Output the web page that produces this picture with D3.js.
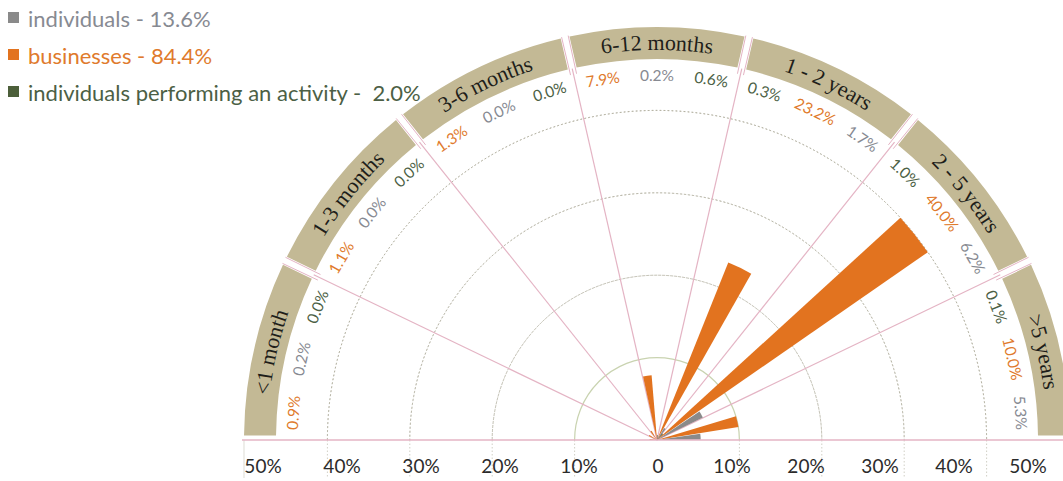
<!DOCTYPE html>
<html>
<head>
<meta charset="utf-8">
<script src="https://cdn.jsdelivr.net/npm/d3@7"></script>
<style>
  body { margin: 0; background: #fff; }
  svg { display: block; }
</style>
</head>
<body>
<div id="container"></div>
<script>
var width = 1063;
var height = 481;

// data
var categories = ["<1 month", "1-3 months", "3-6 months", "6-12 months", "1 - 2 years", "2 - 5 years", ">5 years"];
var individuals = [0.2, 0.0, 0.0, 0.2, 1.7, 6.2, 5.3];
var businesses = [0.9, 1.1, 1.3, 7.9, 23.2, 40.0, 10.0];
var activity = [0.0, 0.0, 0.0, 0.6, 0.3, 1.0, 0.1];
var seriesNames = ["individuals", "businesses", "individuals performing an activity"];
var seriesTotals = ["13.6%", "84.4%", "2.0%"];
var ticks = [50, 40, 30, 20, 10, 0, 10, 20, 30, 40, 50];

var colors = { individuals: "#8a8a8a", businesses: "#e2731f", activity: "#4c5f3a" };
var textColors = { individuals: "#878a92", businesses: "#e07a2c", activity: "#4c5f45" };

var cx = 657, cy = 440;
var bandInner = 381, bandOuter = 413;

var svg = d3.select("#container").append("svg")
  .attr("width", width).attr("height", height);

// radius scale (percent -> px)
var r = d3.scaleLinear().domain([0, 50]).range([0, 412]);
// angle scale, clockwise from north
var angle = d3.scaleBand().domain(categories).range([-Math.PI / 2, Math.PI / 2]);

// bar order inside each sector (left half and right half differ in the original)
function orderFor(i) {
  return i < 4 ? ["businesses", "individuals", "activity"] : ["activity", "businesses", "individuals"];
}

var rows = [];
categories.forEach(function (c, i) {
  var vals = { individuals: individuals[i], businesses: businesses[i], activity: activity[i] };
  var sub = d3.scaleBand().domain(orderFor(i)).range([angle(c), angle(c) + angle.bandwidth()]);
  orderFor(i).forEach(function (k) {
    rows.push({ cat: c, key: k, value: vals[k], a0: sub(k), a1: sub(k) + sub.bandwidth() });
  });
});

var g = svg.append("g").attr("transform", "translate(" + cx + "," + cy + ")");

// grid rings
[10, 20, 30, 40].forEach(function (t) {
  g.append("path")
    .attr("d", d3.arc().innerRadius(r(t)).outerRadius(r(t))({ startAngle: -Math.PI / 2, endAngle: Math.PI / 2 }))
    .attr("fill", "none")
    .attr("stroke", t == 10 ? "#c9d3b0" : "#a9a795")
    .attr("stroke-width", t == 10 ? 1.2 : 0.8)
    .attr("stroke-dasharray", t == 10 ? null : "1.5,2.5");
  // little drop lines below baseline
  [-1, 1].forEach(function (s) {
    g.append("line")
      .attr("x1", s * r(t)).attr("x2", s * r(t))
      .attr("y1", 0).attr("y2", 38)
      .attr("stroke", "#bdbbae").attr("stroke-width", 0.7)
      .attr("stroke-dasharray", "1.5,2");
  });
});
g.append("line")
  .attr("x1", -bandOuter).attr("x2", -bandOuter)
  .attr("y1", 0).attr("y2", 38)
  .attr("stroke", "#cfcdc2").attr("stroke-width", 0.7);

// outer band
var bandArc = d3.arc().innerRadius(bandInner).outerRadius(bandOuter).padAngle(0.016);
g.selectAll("path.band")
  .data(categories)
  .enter().append("path")
  .attr("class", "band")
  .attr("d", function (c) { return bandArc({ startAngle: angle(c), endAngle: angle(c) + angle.bandwidth() }); })
  .attr("fill", "#c3b995");

// sector lines
var bounds = categories.slice(1).map(function (c) { return angle(c); });
var lineCol = "#e4b4c4";
bounds.forEach(function (a) {
  g.append("line")
    .attr("x1", 0).attr("y1", 0)
    .attr("x2", bandInner * Math.sin(a)).attr("y2", -bandInner * Math.cos(a))
    .attr("stroke", lineCol).attr("stroke-width", 1.2);
  [-0.0082, 0.0082].forEach(function (d) {
    g.append("line")
      .attr("x1", (bandInner - 6) * Math.sin(a + d)).attr("y1", -(bandInner - 6) * Math.cos(a + d))
      .attr("x2", (bandOuter + 1) * Math.sin(a + d)).attr("y2", -(bandOuter + 1) * Math.cos(a + d))
      .attr("stroke", lineCol).attr("stroke-width", 1);
  });
});
// baseline
svg.append("line")
  .attr("x1", cx - bandOuter - 2).attr("x2", width)
  .attr("y1", cy).attr("y2", cy)
  .attr("stroke", lineCol).attr("stroke-width", 1.5);

// bars
var barArc = d3.arc().innerRadius(0);
g.selectAll("path.bar")
  .data(rows)
  .enter().append("path")
  .attr("class", "bar")
  .attr("d", function (d) {
    return barArc.outerRadius(r(d.value))({ startAngle: d.a0 + 0.008, endAngle: d.a1 - 0.008 });
  })
  .attr("fill", function (d) { return colors[d.key]; });

// value labels
var labelR = 365;
g.selectAll("text.val")
  .data(rows)
  .enter().append("text")
  .attr("class", "val")
  .attr("transform", function (d) {
    var a = (d.a0 + d.a1) / 2;
    return "translate(" + (labelR * Math.sin(a)) + "," + (-labelR * Math.cos(a)) + ") rotate(" + (a * 180 / Math.PI) + ")";
  })
  .attr("text-anchor", "middle")
  .attr("dominant-baseline", "central")
  .attr("font-family", "Lato, sans-serif")
  .attr("font-size", 15.5)
  .attr("fill", function (d) { return textColors[d.key]; })
  .text(function (d) { return d.value.toFixed(1) + "%"; });

// category labels on curved paths
var labelPathR = 390;
var defs = svg.append("defs");
categories.forEach(function (c, i) {
  var a0 = angle(c) - 0.3, a1 = angle(c) + angle.bandwidth() + 0.3;
  defs.append("path")
    .attr("id", "cat" + i)
    .attr("d", "M" + (cx + labelPathR * Math.sin(a0)) + "," + (cy - labelPathR * Math.cos(a0)) +
      " A" + labelPathR + "," + labelPathR + " 0 0 1 " +
      (cx + labelPathR * Math.sin(a1)) + "," + (cy - labelPathR * Math.cos(a1)));
  svg.append("text")
    .attr("font-family", "'Liberation Serif', serif")
    .attr("font-size", 22)
    .attr("fill", "#1e1e1a")
    .append("textPath")
    .attr("href", "#cat" + i)
    .attr("startOffset", "50%")
    .attr("text-anchor", "middle")
    .text(c);
});

// axis labels (the original spaces them a bit unevenly)
var tickX = d3.scaleLinear().domain([-50, 0, 50]).range([263, 658, 1028]);
svg.selectAll("text.tick")
  .data(ticks)
  .enter().append("text")
  .attr("class", "tick")
  .attr("x", function (t, i) { return tickX(i < 5 ? -t : t); })
  .attr("y", 473)
  .attr("text-anchor", "middle")
  .attr("font-family", "Lato, sans-serif")
  .attr("font-size", 19)
  .attr("fill", "#2b2b2b")
  .text(function (t) { return t == 0 ? "0" : t + "%"; });

// legend
var legendKeys = ["individuals", "businesses", "activity"];
var legend = svg.append("g");
legendKeys.forEach(function (k, i) {
  var y = 18 + i * 37;
  legend.append("rect")
    .attr("x", 8).attr("y", y - 6).attr("width", 11).attr("height", 11)
    .attr("fill", colors[k]);
  legend.append("text")
    .attr("x", 28).attr("y", y)
    .attr("dominant-baseline", "central")
    .attr("font-family", "Lato, sans-serif")
    .attr("font-size", 22)
    .attr("fill", textColors[k])
    .style("white-space", "pre")
    .text(seriesNames[i] + " - " + (i == 2 ? " " : "") + seriesTotals[i]);
});
</script>
</body>
</html>
